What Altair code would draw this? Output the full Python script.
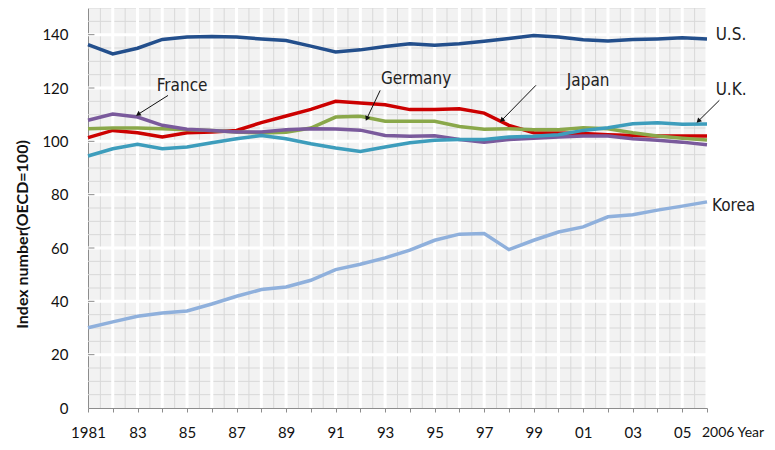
import altair as alt
import pandas as pd

years = list(range(1981, 2007))
us = [136.3, 132.8, 134.9, 138.2, 139.1, 139.3, 139.1, 138.4, 137.8, 135.7, 133.5, 134.3, 135.6,
      136.6, 136.0, 136.6, 137.5, 138.6, 139.7, 139.1, 138.1, 137.6, 138.2, 138.4, 138.8, 138.4]
japan = [101.4, 104.1, 103.2, 101.6, 103.2, 103.5, 104.1, 107.0, 109.5, 112.0, 115.0, 114.4, 113.7,
         111.9, 111.9, 112.2, 110.6, 106.0, 103.2, 103.1, 102.9, 102.5, 102.2, 102.0, 102.0, 102.0]
germany = [104.7, 105.0, 105.0, 104.7, 104.3, 104.1, 103.5, 103.1, 103.4, 105.0, 109.1, 109.4, 107.5,
           107.5, 107.5, 105.6, 104.5, 104.7, 104.3, 104.3, 105.1, 104.7, 103.2, 102.0, 101.2, 100.5]
france = [107.9, 110.2, 109.1, 106.0, 104.5, 104.1, 103.5, 103.5, 104.3, 104.7, 104.6, 104.2, 102.2,
          101.9, 102.1, 100.7, 99.7, 100.7, 101.2, 101.6, 102.0, 102.0, 101.0, 100.4, 99.7, 98.7]
uk = [94.5, 97.2, 98.9, 97.2, 97.9, 99.5, 101.0, 102.2, 101.0, 99.1, 97.5, 96.2, 97.9,
      99.5, 100.4, 100.7, 100.7, 101.6, 101.9, 102.5, 104.1, 105.1, 106.6, 107.0, 106.4, 106.5]
korea = [30.1, 32.3, 34.4, 35.6, 36.4, 39.0, 41.9, 44.4, 45.4, 47.9, 51.9, 53.9, 56.3,
         59.2, 62.9, 65.2, 65.4, 59.4, 62.9, 66.0, 67.9, 71.7, 72.5, 74.2, 75.7, 77.3]

series_names = ["U.S.", "Japan", "Germany", "France", "U.K.", "Korea"]
series_colors = ["#234f8c", "#cc0000", "#8aa84a", "#7a5a9c", "#3d9dbc", "#8fb0dc"]

# annotation labels
label_text = ["U.S.", "U.K.", "Korea", "France", "Germany", "Japan"]
label_x = [2006.35, 2006.35, 2006.2, 1984.8, 1994.25, 2001.2]
label_y = [139.7, 119.3, 75.7, 120.6, 123.2, 122.8]
label_align = ["left", "left", "left", "center", "center", "center"]

# arrows
arrow_x = [1984.23, 1992.8, 1999.09, 2006.5]
arrow_y = [117.2, 119.1, 121.0, 115.4]
arrow_x2 = [1983.02, 1992.26, 1997.71, 2005.65]
arrow_y2 = [110.1, 108.5, 107.9, 107.6]
arrow_angle = [237.7, 205.2, 224.4, 225.4]

values_map = {"U.S.": us, "Japan": japan, "Germany": germany, "France": france, "U.K.": uk, "Korea": korea}
rows = []
for name in series_names:
    for yr, v in zip(years, values_map[name]):
        rows.append({"year": yr, "value": v, "country": name})
df = pd.DataFrame(rows)

xs = alt.Scale(domain=[1981, 2006], nice=False, zero=False)
ys = alt.Scale(domain=[0, 150], nice=False)

x_axis = alt.Axis(
    values=years, title=None, grid=False,
    labelExpr="datum.value == 1981 ? '1981' : (datum.value % 2 == 1 && datum.value < 2006 ? substring(toString(datum.value), 2, 4) : '')",
    labelFont="Lato", labelFontSize=15, labelColor="#111", labelPadding=13,
    tickSize=4, tickColor="#8c8c8c", domainColor="#8c8c8c", labelFlush=False)
y_axis = alt.Axis(
    values=list(range(0, 141, 20)), grid=False, ticks=False,
    title="Index number(OECD=100)", titleFont="Lato", titleFontSize=16, titleFontWeight="bold",
    titleColor="#111", titleX=-66, titleY=226, titleBaseline="middle",
    labelFont="Lato", labelFontSize=15, labelColor="#111", labelPadding=20,
    domainColor="#8c8c8c")

LABEL_FONT = "DejaVu Sans Condensed, Roboto, Liberation Sans, sans-serif"

minor_v = pd.DataFrame({"x": [y + 0.5 for y in range(1981, 2006)]})
minor_h = pd.DataFrame({"y": [v for v in range(5, 151, 5) if v % 20 != 0]})
major_v = pd.DataFrame({"x": list(range(1982, 2007))})
major_h = pd.DataFrame({"y": list(range(20, 141, 20))})
inner_ticks = pd.DataFrame({"y": list(range(20, 141, 20)), "x": [1981] * 7, "x2": [1981.26] * 7})

grid_minor_v = alt.Chart(minor_v).mark_rule(color="#d8d8d8", strokeWidth=1).encode(
    x=alt.X("x:Q", scale=xs, axis=x_axis))
grid_minor_h = alt.Chart(minor_h).mark_rule(color="#d8d8d8", strokeWidth=1).encode(
    y=alt.Y("y:Q", scale=ys, axis=y_axis))
grid_major_v = alt.Chart(major_v).mark_rule(color="white", strokeWidth=3).encode(
    x=alt.X("x:Q", scale=xs, axis=x_axis))
grid_major_h = alt.Chart(major_h).mark_rule(color="white", strokeWidth=3).encode(
    y=alt.Y("y:Q", scale=ys, axis=y_axis))
ticks_in = alt.Chart(inner_ticks).mark_rule(color="#8c8c8c", strokeWidth=1).encode(
    x=alt.X("x:Q", scale=xs, axis=x_axis), x2="x2:Q", y=alt.Y("y:Q", scale=ys, axis=y_axis))

lines = alt.Chart(df).mark_line(strokeWidth=3.5).encode(
    x=alt.X("year:Q", scale=xs, axis=x_axis),
    y=alt.Y("value:Q", scale=ys, axis=y_axis),
    color=alt.Color("country:N", scale=alt.Scale(domain=series_names, range=series_colors), legend=None),
    detail="country:N",
)

arrows_df = pd.DataFrame({"x": arrow_x, "y": arrow_y, "x2": arrow_x2, "y2": arrow_y2, "angle": arrow_angle})
arrow_lines = alt.Chart(arrows_df).mark_rule(color="#111", strokeWidth=1).encode(
    x=alt.X("x:Q", scale=xs, axis=x_axis), y=alt.Y("y:Q", scale=ys, axis=y_axis), x2="x2:Q", y2="y2:Q")
arrow_heads = alt.Chart(arrows_df).mark_point(shape="triangle-up", filled=True, color="#111", size=30, opacity=1).encode(
    x=alt.X("x2:Q", scale=xs, axis=x_axis), y=alt.Y("y2:Q", scale=ys, axis=y_axis),
    angle=alt.Angle("angle:Q", scale=None))

labels_df = pd.DataFrame({"t": label_text, "x": label_x, "y": label_y, "a": label_align})
labels_left = alt.Chart(labels_df[labels_df.a == "left"]).mark_text(
    align="left", baseline="middle", font=LABEL_FONT, fontSize=17, color="#222").encode(
    x=alt.X("x:Q", scale=xs, axis=x_axis), y=alt.Y("y:Q", scale=ys, axis=y_axis), text="t:N")
labels_center = alt.Chart(labels_df[labels_df.a == "center"]).mark_text(
    align="center", baseline="middle", font=LABEL_FONT, fontSize=17, color="#222").encode(
    x=alt.X("x:Q", scale=xs, axis=x_axis), y=alt.Y("y:Q", scale=ys, axis=y_axis), text="t:N")

year_lbl = alt.Chart(pd.DataFrame({"x": [2006], "t": ["2006 Year"]})).mark_text(
    align="left", baseline="top", font="Lato", fontSize=14, color="#111", dx=-5).encode(
    x=alt.X("x:Q", scale=xs, axis=x_axis), y=alt.value(418), text="t:N")

chart = alt.layer(
    grid_minor_v, grid_minor_h, grid_major_v, grid_major_h, ticks_in, lines,
    arrow_lines, arrow_heads, labels_left, labels_center, year_lbl
).properties(
    width=619, height=400,
    autosize=alt.AutoSizeParams(type="none"),
    padding={"left": 80, "top": 0, "right": 60, "bottom": 32},
).configure_view(fill="#f2f2f2", stroke=None)

chart.save("out.html", embed_options={"renderer": "svg", "actions": False})
